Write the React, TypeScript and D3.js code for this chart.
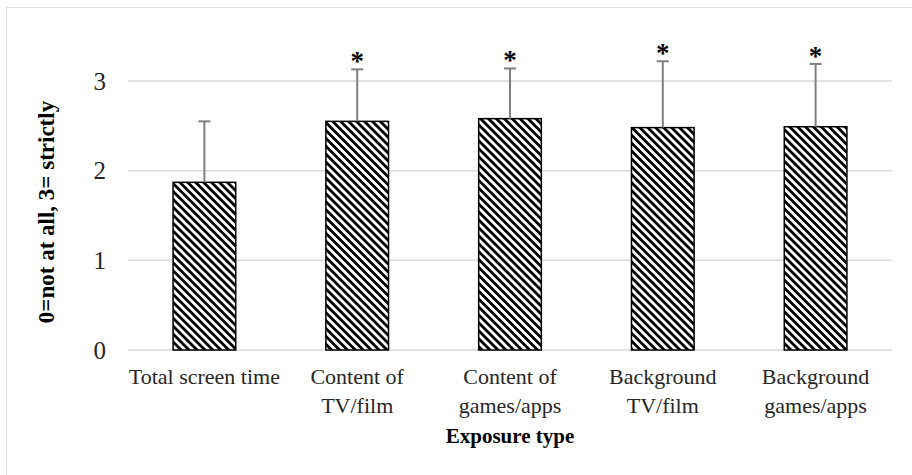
import React from 'react';
import * as d3 from 'd3';

const categories = [
  ['Total screen time'],
  ['Content of', 'TV/film'],
  ['Content of', 'games/apps'],
  ['Background', 'TV/film'],
  ['Background', 'games/apps'],
];
const means = [1.87, 2.55, 2.58, 2.48, 2.49];
const errors = [0.68, 0.58, 0.56, 0.74, 0.70];
const significant = [false, true, true, true, true];
const yTicks = [0, 1, 2, 3];

const W = 912;
const H = 475;
const margin = { top: 81, right: 20, bottom: 125, left: 128 };

export default function App() {
  const plotW = W - margin.left - margin.right;
  const plotH = H - margin.top - margin.bottom;

  const x = d3
    .scaleBand<number>()
    .domain(d3.range(means.length))
    .range([0, plotW])
    .paddingInner(0.59)
    .paddingOuter(0.295);
  const y = d3.scaleLinear().domain([0, 3]).range([plotH, 0]);

  const serif = '"Liberation Serif", "Times New Roman", serif';

  return (
    <svg
      width={W}
      height={H}
      style={{ position: 'absolute', left: 0, top: 0, background: '#fff' }}
    >
      <defs>
        <pattern
          id="stripes"
          width={5.6}
          height={5.6}
          patternUnits="userSpaceOnUse"
          patternTransform="rotate(45)"
        >
          <rect width={5.6} height={5.6} fill="#fff" />
          <rect width={5.6} height={2.8} fill="#000" />
        </pattern>
      </defs>

      {/* chart area border */}
      <rect x={6.5} y={7.5} width={920} height={480} fill="none" stroke="#d9d9d9" strokeWidth={1} />

      <g transform={`translate(${margin.left},${margin.top})`}>
        {/* gridlines */}
        {yTicks.map((t) => (
          <line
            key={t}
            x1={0}
            x2={plotW}
            y1={y(t)}
            y2={y(t)}
            stroke="#d9d9d9"
            strokeWidth={1.5}
          />
        ))}

        {/* y tick labels */}
        {yTicks.map((t) => (
          <text
            key={'t' + t}
            x={-22}
            y={y(t)}
            dy="0.35em"
            textAnchor="end"
            fontFamily={serif}
            fontSize={25}
            fill="#262626"
          >
            {t}
          </text>
        ))}

        {/* bars */}
        {means.map((m, i) => (
          <rect
            key={'b' + i}
            x={x(i)!}
            y={y(m)}
            width={x.bandwidth()}
            height={y(0) - y(m)}
            fill="url(#stripes)"
            stroke="#000"
            strokeWidth={1.5}
          />
        ))}

        {/* error bars (upper only) */}
        {means.map((m, i) => {
          const cx = x(i)! + x.bandwidth() / 2;
          return (
            <g key={'e' + i} stroke="#7f7f7f" strokeWidth={2}>
              <line x1={cx} x2={cx} y1={y(m)} y2={y(m + errors[i])} />
              <line x1={cx - 6} x2={cx + 6} y1={y(m + errors[i])} y2={y(m + errors[i])} />
            </g>
          );
        })}

        {/* significance markers */}
        {means.map((m, i) =>
          significant[i] ? (
            <text
              key={'s' + i}
              x={x(i)! + x.bandwidth() / 2}
              y={y(m + errors[i]) + 1}
              textAnchor="middle"
              fontFamily={serif}
              fontWeight="bold"
              fontSize={27}
              fill="#000"
            >
              *
            </text>
          ) : null
        )}

        {/* category labels */}
        {categories.map((lines, i) => (
          <text
            key={'c' + i}
            x={x(i)! + x.bandwidth() / 2}
            y={plotH + 34}
            textAnchor="middle"
            fontFamily={serif}
            fontSize={22}
            fill="#262626"
          >
            {lines.map((l, j) => (
              <tspan key={j} x={x(i)! + x.bandwidth() / 2} dy={j === 0 ? 0 : 29}>
                {l}
              </tspan>
            ))}
          </text>
        ))}

        {/* axis titles */}
        <text
          x={plotW / 2 + 0}
          y={plotH + 93}
          textAnchor="middle"
          fontFamily={serif}
          fontWeight="bold"
          fontSize={21}
          fill="#000"
        >
          Exposure type
        </text>
      </g>

      <text
        transform={`translate(54,212) rotate(-90)`}
        textAnchor="middle"
        fontFamily={serif}
        fontWeight="bold"
        fontSize={23}
        fill="#000"
      >
        0=not at all, 3= strictly
      </text>
    </svg>
  );
}
